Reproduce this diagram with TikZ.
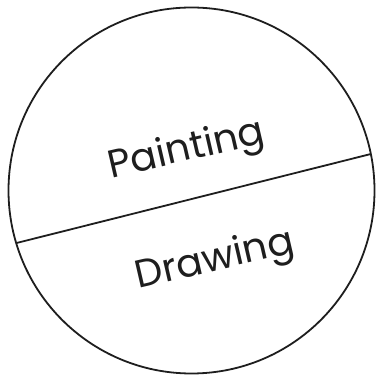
\documentclass[tikz,border=0pt]{standalone}
\usepackage{fontspec}
\setmainfont{Poppins}
\usepackage{xcolor}
\usepackage{tikz}
\usetikzlibrary{positioning, calc}
\definecolor{inkblack}{RGB}{30, 30, 30}
\tikzstyle{outline} = [
    line width=1.8pt,
    draw=inkblack
]
\tikzstyle{label} = [
    font=\fontsize{39}{44}\selectfont,
    text=inkblack,
    rotate=13
]

\begin{document}
\begin{tikzpicture}[x=1pt, y=1pt]
        \useasboundingbox (0, 0) rectangle (375, 379);
        % Circle
        \coordinate (centre) at (191.5, 188.5);
        \draw[outline] (centre) circle (183);
        % Divider
        \coordinate (left) at ($(centre)+(196.7:183)$);
        \coordinate (right) at ($(centre)+(11.5:183)$);
        \draw[outline] (left) -- (right);
        
        % Labels
        \node[label] (painting) at (187, 228) {Painting};
        \node[label] (drawing) at (215, 118) {Drawing};
    \end{tikzpicture}
\end{document}
